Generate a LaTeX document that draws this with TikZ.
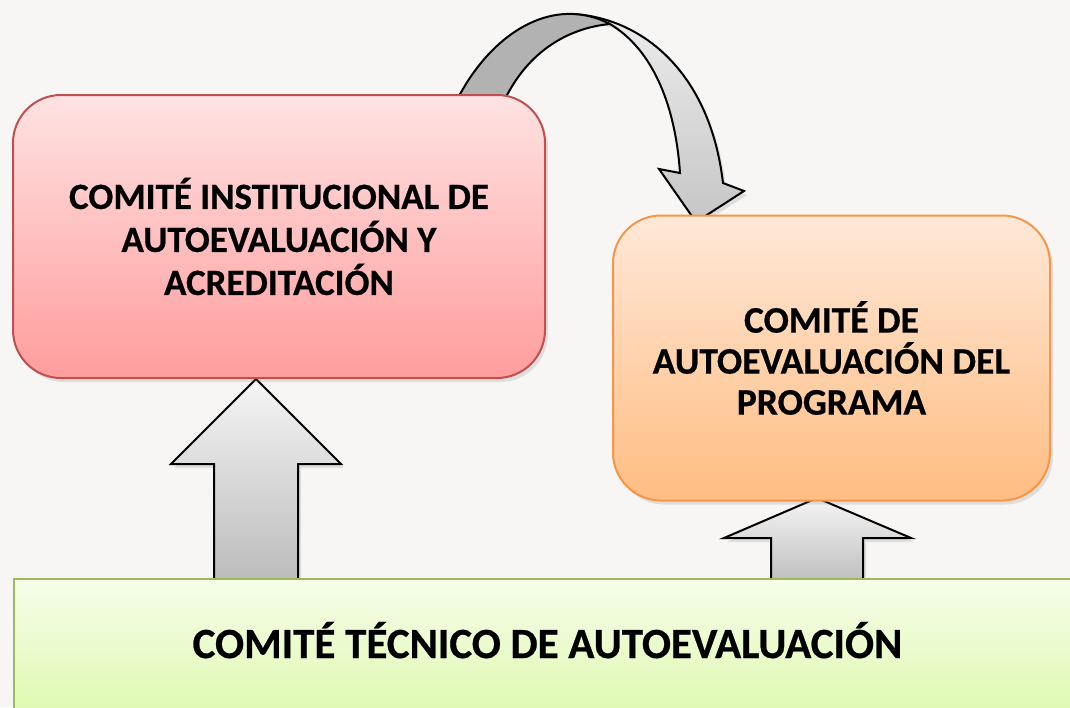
\documentclass[tikz,border=0pt]{standalone}
\usepackage{fontspec}
\setmainfont{Carlito}[BoldFeatures={FakeBold=0.6}]
\usetikzlibrary{shadows}
\definecolor{bgc}{HTML}{F7F6F4}
\definecolor{redline}{HTML}{C0504D}
\definecolor{redtop}{HTML}{FFE2E2}
\definecolor{redbot}{HTML}{FF9D9D}
\definecolor{orline}{HTML}{F79646}
\definecolor{ortop}{HTML}{FFE8D8}
\definecolor{orbot}{HTML}{FFBD82}
\definecolor{grline}{HTML}{9BBB59}
\definecolor{grtop}{HTML}{F6FDEA}
\definecolor{grbot}{HTML}{DEF9AE}
\tikzset{
  boxshadow/.style={drop shadow={opacity=0.2,shadow xshift=3pt,shadow yshift=-4pt}},
  committee/.style={rounded corners=48pt,line width=2pt,align=center,
    font=\bfseries,boxshadow,inner sep=0pt},
  blockarrow/.style={draw=black,line width=2pt,line join=miter,
    top color=gray!8,bottom color=gray!55,boxshadow},
}
\begin{document}
\begin{tikzpicture}[x=1pt,y=-1pt]
\useasboundingbox (0,0) rectangle (1070,707);
\fill[bgc] (0,0) rectangle (1070,707);
% curved arrow: back (light) part
\path[draw=black,line width=2pt,line join=miter,top color=gray!15,bottom color=gray!45,boxshadow]
  (573,14) .. controls (642,18) and (710,72) .. (723,183)
  -- (744,191) -- (696,222) -- (659,169) -- (680,173)
  .. controls (675,100) and (650,48) .. (610,24) -- cycle;
% curved arrow: front (dark) part
\path[draw=black,line width=2pt,line join=round,fill=gray!60]
  (452,110) .. controls (482,45) and (530,12) .. (573,14)
  .. controls (590,15) and (600,19) .. (610,24)
  .. controls (568,28) and (524,52) .. (500,110) -- cycle;
% straight up arrows
\path[blockarrow] (214,590) -- (214,464) -- (171,464) -- (256,379)
  -- (341,464) -- (298,464) -- (298,590) -- cycle;
\path[blockarrow] (771,590) -- (771,538) -- (724,538) -- (817,498)
  -- (911,538) -- (863,538) -- (863,590) -- cycle;
% committees
\node[committee,draw=redline,top color=redtop,bottom color=redbot,
  minimum width=532pt,minimum height=283pt,font=\bfseries\fontsize{37}{43}\selectfont]
  (cia) at (279,236.5) {COMITÉ INSTITUCIONAL DE\\AUTOEVALUACIÓN Y\\ACREDITACIÓN};
\node[committee,draw=orline,top color=ortop,bottom color=orbot,
  minimum width=437pt,minimum height=285pt,font=\bfseries\fontsize{37.5}{41}\selectfont]
  (cap) at (831.5,358) {COMITÉ DE\\AUTOEVALUACIÓN DEL\\PROGRAMA};
\node[draw=grline,line width=2pt,top color=grtop,bottom color=grbot,boxshadow,
  minimum width=1067pt,minimum height=142pt,inner sep=0pt,anchor=north west]
  (cta) at (13,578) {};
\node[font=\bfseries\fontsize{43}{50}\selectfont,anchor=base] (ctatext) at (547.5,658)
  {COMITÉ TÉCNICO DE AUTOEVALUACIÓN};
\end{tikzpicture}
\end{document}
